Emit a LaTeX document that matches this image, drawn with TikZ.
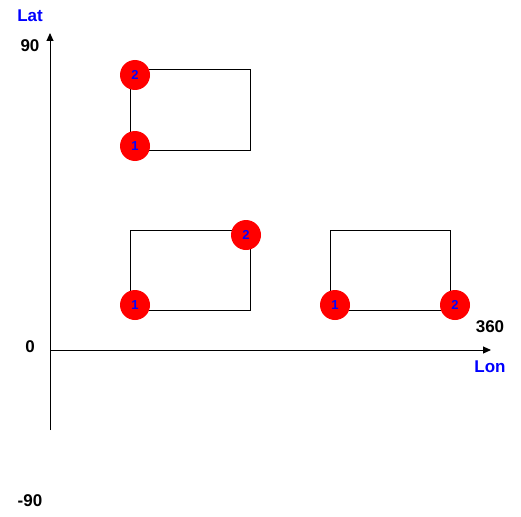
\documentclass[tikz,border=0pt]{standalone}
\usepackage{fontspec}
\setmainfont{Liberation Sans}
\usetikzlibrary{arrows.meta}
\tikzset{
  pt/.style={circle, fill=red, minimum size=30pt, inner sep=0pt, text=blue, font=\bfseries\fontsize{13}{13}\selectfont},
  axlabel/.style={text=blue, font=\bfseries\fontsize{17}{17}\selectfont},
  ticklabel/.style={font=\bfseries\fontsize{17}{17}\selectfont}
}
\begin{document}
\begin{tikzpicture}[x=1pt,y=-1pt,line width=1pt]
\useasboundingbox (0,0) rectangle (521,516);

% axes
\coordinate (latbot) at (50,430);
\coordinate (lattop) at (50,33);
\coordinate (lonleft) at (50,350);
\coordinate (lonright) at (491,350);
\draw[-{Triangle[length=8pt,width=7pt]}] (latbot) -- (lattop);
\draw[-{Triangle[length=8pt,width=7pt]}] (lonleft) -- (lonright);

\node[axlabel] (lat) at (30,16) {Lat};
\node[ticklabel] (t90) at (30,46) {90};
\node[ticklabel] (t0) at (30,347) {0};
\node[ticklabel] (tm90) at (30,501) {-90};
\node[ticklabel] (t360) at (490,327) {360};
\node[axlabel] (lon) at (490,367) {Lon};

% boxes
\draw (130,70) rectangle (250,150);
\draw (130,230) rectangle (250,310);
\draw (330,230) rectangle (450,310);

% points
\node[pt] (a2) at (135,75) {2};
\node[pt] (a1) at (135,146) {1};

\node[pt] (b1) at (135,305) {1};
\node[pt] (b2) at (246,235) {2};

\node[pt] (c1) at (335,305) {1};
\node[pt] (c2) at (455,305) {2};

\end{tikzpicture}
\end{document}
